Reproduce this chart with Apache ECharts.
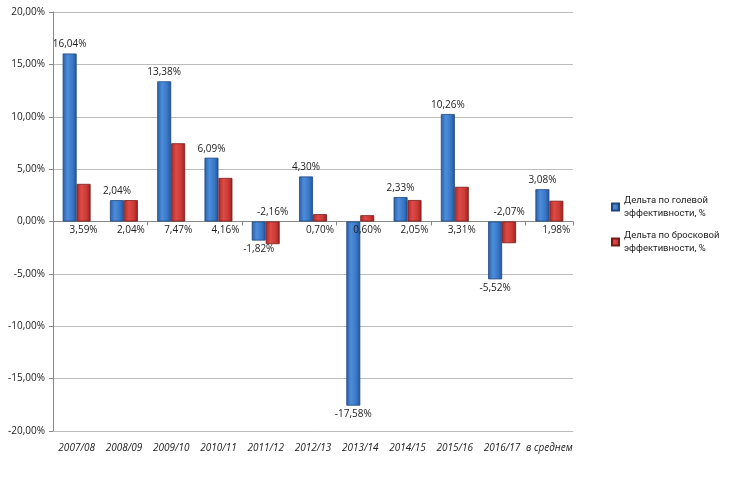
<!DOCTYPE html>
<html><head><meta charset="utf-8">
<script src="https://cdn.jsdelivr.net/npm/echarts@6/dist/echarts.min.js"></script>
<style>html,body{margin:0;padding:0;background:#fff}#c{width:730px;height:477px}</style>
</head><body><div id="c"></div>
<script>
const categories = ['2007/08','2008/09','2009/10','2010/11','2011/12','2012/13','2013/14','2014/15','2015/16','2016/17','в среднем'];
const goalDelta = [16.04, 2.04, 13.38, 6.09, -1.82, 4.30, -17.58, 2.33, 10.26, -5.52, 3.08];
const shotDelta = [3.59, 2.04, 7.47, 4.16, -2.16, 0.70, 0.60, 2.05, 3.31, -2.07, 1.98];
const yTicks = {min: -20, max: 20, interval: 5};
const seriesNames = ['Дельта по голевой\nэффективности, %', 'Дельта по бросковой\nэффективности, %'];

const fmt = v => v.toFixed(2).replace('.', ',') + '%';
const FONT = 'Open Sans';
const blueGrad = new echarts.graphic.LinearGradient(0,0,1,0,[
  {offset:0,color:'#2a5fa8'},{offset:0.35,color:'#4d8ddb'},{offset:0.7,color:'#3a78c6'},{offset:1,color:'#24539a'}]);
const redGrad = new echarts.graphic.LinearGradient(0,0,1,0,[
  {offset:0,color:'#a82a27'},{offset:0.35,color:'#de4a45'},{offset:0.7,color:'#cc3b36'},{offset:1,color:'#962220'}]);

const blueData = goalDelta.map(v => ({value: v, label: {position: v >= 0 ? 'top' : 'bottom'}}));
const redData = shotDelta.map(v => ({value: v, label: {position: v >= 0 ? 'bottom' : 'top'}}));

const chart = echarts.init(document.getElementById('c'));
chart.setOption({
  animation: false,
  grid: {left: 53, right: 157, top: 12, bottom: 46},
  legend: {
    orient: 'vertical', left: 606, top: 189, itemWidth: 7, itemHeight: 7, itemGap: 9,
    icon: 'rect',
    textStyle: {fontFamily: 'Roboto', fontSize: 9.5, color: '#222', lineHeight: 13},
    data: seriesNames
  },
  xAxis: [
    {type: 'category', data: categories, axisLine: {onZero: true, lineStyle: {color: '#888'}},
     axisTick: {show: true, length: 4, lineStyle: {color: '#888'}}, axisLabel: {show: false}},
    {type: 'category', data: categories, position: 'bottom', axisLine: {show: true, onZero: false, lineStyle: {color: '#bdbdbd'}},
     axisTick: {show: false}, axisLabel: {interval: 0, fontFamily: FONT, fontSize: 10, fontStyle: 'italic', color: '#222', margin: 12}}
  ],
  yAxis: {
    type: 'value', min: yTicks.min, max: yTicks.max, interval: yTicks.interval,
    axisLine: {show: true, lineStyle: {color: '#888'}},
    axisTick: {show: true, length: 4, lineStyle: {color: '#888'}},
    splitLine: {lineStyle: {color: '#bdbdbd'}},
    axisLabel: {formatter: v => fmt(v), fontFamily: FONT, fontSize: 10, color: '#222', margin: 8}
  },
  series: [
    {
      name: seriesNames[0], type: 'bar', data: blueData, barGap: '0%', barCategoryGap: '41%',
      itemStyle: {color: blueGrad, borderColor: '#1d4680', borderWidth: 0.8},
      label: {show: true, formatter: p => fmt(p.value), fontFamily: FONT, fontSize: 10, color: '#222', distance: 4}
    },
    {
      name: seriesNames[1], type: 'bar', data: redData,
      itemStyle: {color: redGrad, borderColor: '#7a1a18', borderWidth: 0.8},
      label: {show: true, formatter: p => fmt(p.value), fontFamily: FONT, fontSize: 10, color: '#222', distance: 4}
    }
  ]
});
</script></body></html>
